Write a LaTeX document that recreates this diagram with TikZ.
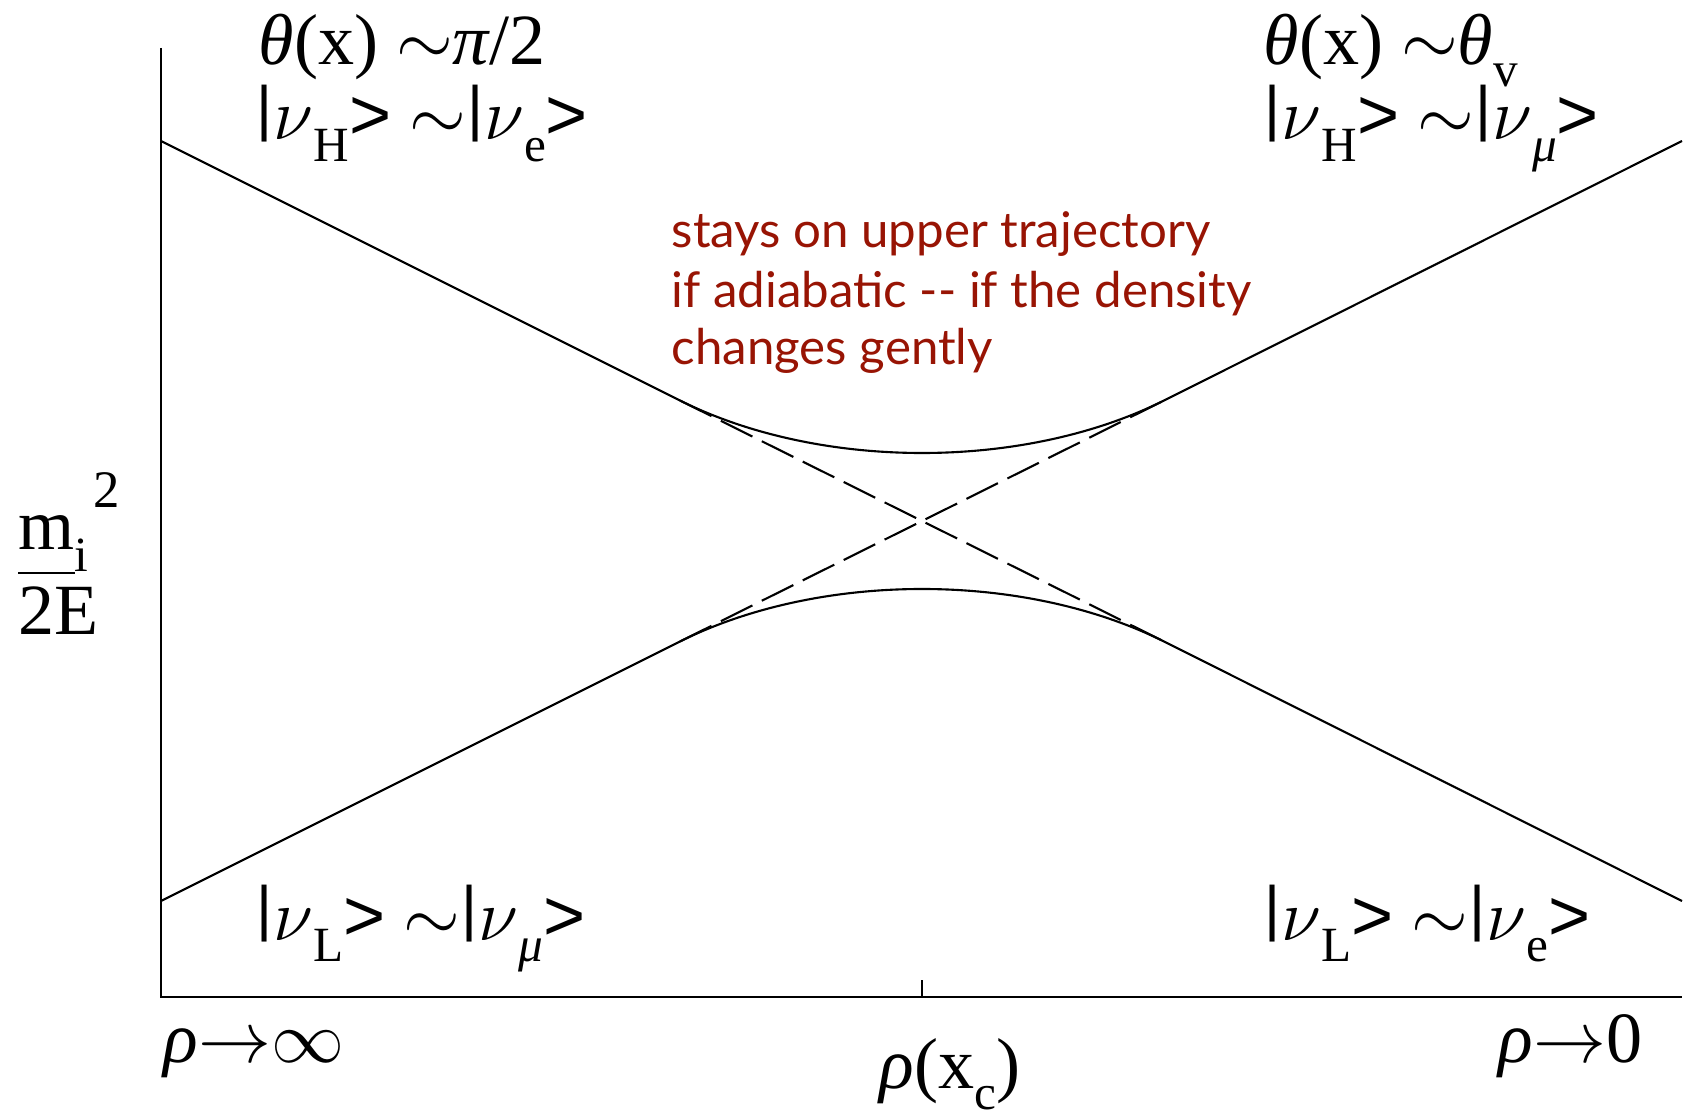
\documentclass[tikz,border=0pt]{standalone}
\usepackage{fontspec}
\setmainfont{Liberation Serif}
\newfontfamily\gillfont{Lato}
\newfontfamily\gtfont{Liberation Sans}
\usepackage{tikz}
\usetikzlibrary{positioning}

\definecolor{notered}{RGB}{152,20,4}
\newcommand{\gk}[1]{{\itshape #1}}
\newcommand{\lo}[1]{\raisebox{-0.3em}{\fontsize{14}{14}\selectfont #1}}
\newcommand{\kbar}{\raisebox{0.12em}{\scalebox{1}[0.84]{\gillfont|}}}
\newcommand{\state}[1]{\kbar$\nu$\lo{#1}{\gtfont >}}
\newcommand{\sm}{$\sim$}

\begin{document}
\begin{tikzpicture}[x=0.01cm, y=-0.01cm,
    lbl/.style={anchor=base west, inner sep=0pt, font=\fontsize{20.5}{24}\selectfont},
    note/.style={anchor=base west, inner sep=0pt, text=notered, font=\gillfont\fontsize{14}{16.8}\selectfont},
    level/.style={line width=0.6pt},
    bare/.style={line width=0.6pt, dash pattern=on 10pt off 3pt}]
    \useasboundingbox (0,0) rectangle (1685,1110);

    % Axes
    \draw[level] (161,48) -- (161,997) -- (1682,997);
    \draw[level] (922,997) -- (922,980);

    % Touching points of the two levels
    \coordinate (ul) at (680,400.5);
    \coordinate (ur) at (1164,400.5);
    \coordinate (ll) at (680,641.5);
    \coordinate (lr) at (1164,641.5);

    % Upper level
    \draw[level] (161,141) -- (ul)
        .. controls (820,470.5) and (1024,470.5) .. (ur) -- (1682,141);
    % Lower level
    \draw[level] (161,901) -- (ll)
        .. controls (820,571.5) and (1024,571.5) .. (lr) -- (1682,901);

    % Levels without mixing
    \draw[bare] (ul) -- (lr);
    \draw[bare] (ll) -- (ur);

    \node[lbl] (thetaL) at (258,65) {\gk{θ}(x) \sm\gk{π}/2};
    \node[lbl] (heavyL) at (255,140) {\state{H} \sm\state{e}};
    \node[lbl] (thetaR) at (1263,65) {\gk{θ}(x) \sm\gk{θ}\lo{v}};
    \node[lbl] (heavyR) at (1263,140) {\state{H} \sm\state{\gk{μ}}};
    \node[lbl] (lightL) at (255,940) {\state{L} \sm\state{\gk{μ}}};
    \node[lbl] (lightR) at (1263,940) {\state{L} \sm\state{e}};

    \node[lbl] (rhoinf) at (163,1062) {\gk{ρ}$\rightarrow$$\infty$};
    \node[lbl, anchor=base] (rhoc) at (950,1088) {\gk{ρ}(x\lo{c})};
    \node[lbl, anchor=base east] (rhozero) at (1643,1062) {\gk{ρ}$\rightarrow$0};

    % m_i^2 / 2E
    \node[lbl] (mass) at (18,550) {m\lo{i}};
    \node[lbl] (sq) at (93,508) {\fontsize{15}{15}\selectfont 2};
    \draw[level] (18,573) -- (75,573);
    \node[lbl] (twoE) at (18,635) {2E};

    \node[note] (noteA) at (671,248) {stays on upper trajectory};
    \node[note] (noteB) at (671,308) {if adiabatic -{}- if the density};
    \node[note] (noteC) at (671,365) {changes gently};
\end{tikzpicture}
\end{document}
